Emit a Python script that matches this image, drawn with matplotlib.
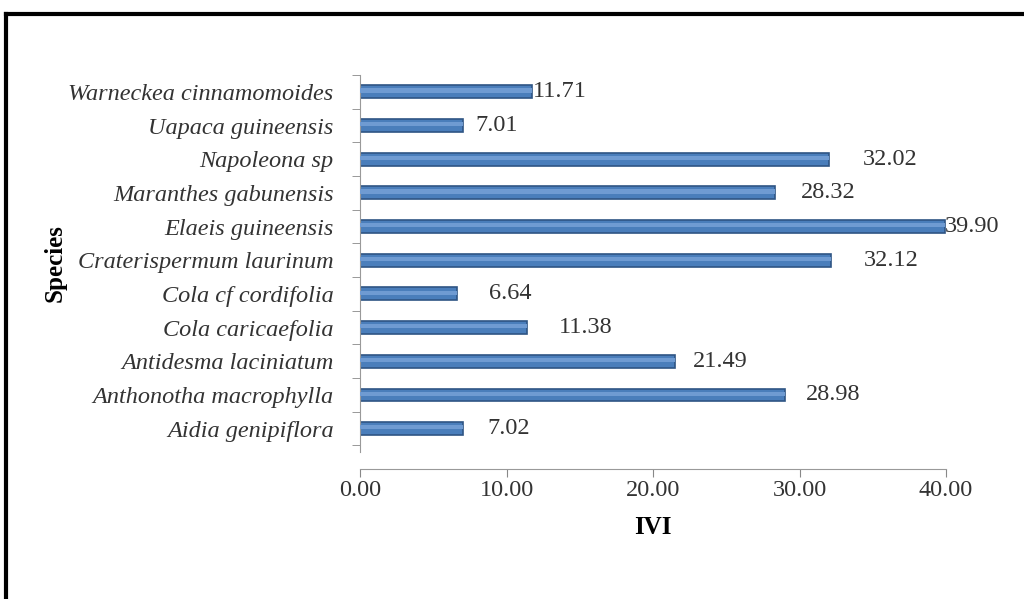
import numpy as np
import matplotlib
matplotlib.use("Agg")
import matplotlib.pyplot as plt
from matplotlib.lines import Line2D

# -----------------------------------------------------------------------------
# Data (bottom to top as drawn)
# -----------------------------------------------------------------------------
species = [
    "Aidia genipiflora",
    "Anthonotha macrophylla",
    "Antidesma laciniatum",
    "Cola caricaefolia",
    "Cola cf cordifolia",
    "Craterispermum laurinum",
    "Elaeis guineensis",
    "Maranthes gabunensis",
    "Napoleona sp",
    "Uapaca guineensis",
    "Warneckea cinnamomoides",
]
ivi = [7.02, 28.98, 21.49, 11.38, 6.64, 32.12, 39.90, 28.32, 32.02, 7.01, 11.71]
xticks = [0, 10, 20, 30, 40]

# label offsets (in points) from bar end, as placed in the original
label_dx = [18, 15, 13, 23, 23, 24, 0, 19, 24, 9, 1]

SERIF = "Liberation Serif"
GREY = "#333333"

fig = plt.figure(figsize=(10.24, 5.99), dpi=100)
ax = fig.add_axes([360 / 1024, 1 - 469 / 599, 586 / 1024, 394 / 599])

y = np.arange(len(species))
ax.barh(y, ivi, height=0.38, color="#4a7ebb", edgecolor="#2f5584", linewidth=1.2, zorder=2)
ax.barh(y + 0.04, ivi, height=0.12, color="#6f9bd2", linewidth=0, zorder=3)

for yi, v, dx in zip(y, ivi, label_dx):
    ax.annotate(f"{v:.2f}", (v, yi), xytext=(dx, 0), textcoords="offset points",
                va="center", ha="left", fontsize=17.5, family=SERIF, color=GREY)

ax.set_xlim(0, 40)
ax.set_ylim(-1.2, 10.5)
ax.set_xticks(xticks)
ax.set_xticklabels([f"{t:.2f}" for t in xticks], fontsize=17.5, family=SERIF, color=GREY)
ax.set_yticks(y)
ax.set_yticklabels(species, fontsize=17.5, family=SERIF, style="italic", color=GREY)
ax.set_yticks(np.arange(-0.5, 10.6, 1), minor=True)
ax.tick_params(axis="y", which="major", length=0, pad=19)
ax.tick_params(axis="y", which="minor", length=6, color="#888888", direction="out")
ax.tick_params(axis="x", length=6, color="#888888", direction="out", pad=2)

for s in ["top", "right"]:
    ax.spines[s].set_visible(False)
ax.spines["left"].set_color("#999999")
ax.spines["bottom"].set_color("#999999")
ax.spines["left"].set_bounds(-0.7, 10.5)

ax.set_xlabel("IVI", fontsize=18, family=SERIF, weight="bold", labelpad=11)
ax.set_ylabel("Species", fontsize=18, family=SERIF, weight="bold")
ax.yaxis.set_label_coords(-0.50, 0.523)

# outer frame (top and left edges only are visible)
fig.add_artist(Line2D([6 / 1024, 1], [1 - 14 / 599, 1 - 14 / 599], color="black", lw=3,
                      transform=fig.transFigure))
fig.add_artist(Line2D([6 / 1024, 6 / 1024], [0, 1 - 14 / 599], color="black", lw=3,
                      transform=fig.transFigure))

fig.savefig("out.png", dpi=100)
